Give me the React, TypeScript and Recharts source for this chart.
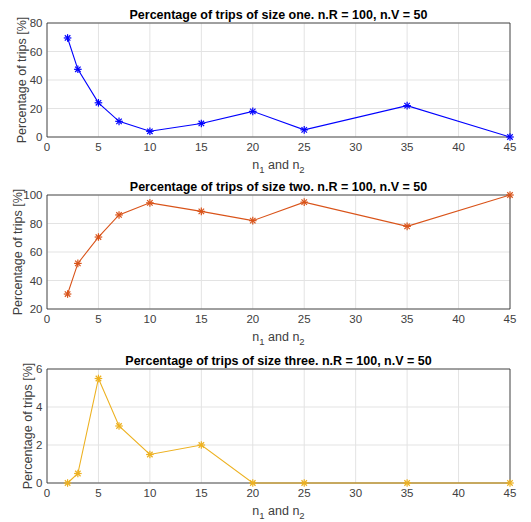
import { LineChart, Line, XAxis, YAxis, CartesianGrid, ReferenceArea } from 'recharts';

// n1 and n2 values on the x axis
const nValues = [2, 3, 5, 7, 10, 15, 20, 25, 35, 45];

// percentage of trips per size
const sizeOne = [69.5, 47.5, 24, 11, 4, 9.5, 18, 5, 22, 0];
const sizeTwo = [30.5, 52, 70.5, 86, 94.5, 88.5, 82, 95, 78, 100];
const sizeThree = [0, 0.5, 5.5, 3, 1.5, 2, 0, 0, 0, 0];

const xTicks = [0, 5, 10, 15, 20, 25, 30, 35, 40, 45];
const yTicksOne = [0, 20, 40, 60, 80];
const yTicksTwo = [20, 40, 60, 80, 100];
const yTicksThree = [0, 2, 4, 6];

const FONT = '"Liberation Sans", Arial, Helvetica, sans-serif';
const AXIS = '#262626';
const TICK = '#404040';
const GRID = '#e3e3e3';

const panels = [
  { title: 'Percentage of trips of size one. n.R = 100, n.V = 50', values: sizeOne, ticks: yTicksOne, color: '#0000FF', top: 23, labelX: 22 },
  { title: 'Percentage of trips of size two. n.R = 100, n.V = 50', values: sizeTwo, ticks: yTicksTwo, color: '#D95319', top: 21, labelX: 18 },
  { title: 'Percentage of trips of size three. n.R = 100, n.V = 50', values: sizeThree, ticks: yTicksThree, color: '#EDB120', top: 21, labelX: 28 },
];

const WIDTH = 531;
const HEIGHT = 174;
const PLOT_LEFT = 47;
const PLOT_RIGHT = 21;

const starDot = (color: string) => (props: any) => {
  const { cx, cy, index } = props;
  if (cx == null || cy == null) return <g key={`d-${index}`} />;
  const r = 3.8;
  const d = r * 0.72;
  return (
    <g key={`d-${index}`} stroke={color} strokeWidth={1.2}>
      <line x1={cx - r} y1={cy} x2={cx + r} y2={cy} />
      <line x1={cx} y1={cy - r} x2={cx} y2={cy + r} />
      <line x1={cx - d} y1={cy - d} x2={cx + d} y2={cy + d} />
      <line x1={cx - d} y1={cy + d} x2={cx + d} y2={cy - d} />
    </g>
  );
};

const XLabel = (props: any) => {
  const { viewBox } = props;
  const cx = viewBox.x + viewBox.width / 2;
  const y = viewBox.y + 31.5;
  return (
    <text x={cx} y={y} textAnchor="middle" fontSize={12.5} fill={TICK} fontFamily={FONT}>
      n<tspan fontSize={9.5} dy={4}>1</tspan>
      <tspan dy={-4}> and n</tspan>
      <tspan fontSize={9.5} dy={4}>2</tspan>
    </text>
  );
};

const makeYLabel = (x: number) => (props: any) => {
  const { viewBox } = props;
  const cy = viewBox.y + viewBox.height / 2;
  return (
    <text
      x={x}
      y={cy}
      transform={`rotate(-90, ${x}, ${cy})`}
      textAnchor="middle"
      dominantBaseline="central"
      fontSize={12.5}
      fill={TICK}
      fontFamily={FONT}
    >
      Percentage of trips [%]
    </text>
  );
};

const Panel = ({ panel }: { panel: (typeof panels)[number] }) => {
  const data = nValues.map((n, i) => ({ n, value: panel.values[i] }));
  const lo = panel.ticks[0];
  const hi = panel.ticks[panel.ticks.length - 1];
  const plotH = 114;
  const xAxisH = HEIGHT - panel.top - plotH;
  const centerX = PLOT_LEFT + (WIDTH - PLOT_LEFT - PLOT_RIGHT) / 2;
  return (
    <LineChart
      width={WIDTH}
      height={HEIGHT}
      data={data}
      margin={{ top: panel.top, right: PLOT_RIGHT, left: 0, bottom: 0 }}
      style={{ fontFamily: FONT }}
    >
      <CartesianGrid stroke={GRID} />
      <XAxis
        dataKey="n"
        type="number"
        domain={[0, 45]}
        ticks={xTicks}
        height={xAxisH}
        tickSize={0}
        tickMargin={6}
        axisLine={false}
        tick={{ fill: TICK, fontSize: 11.5 }}
        label={<XLabel />}
      />
      <YAxis
        type="number"
        domain={[lo, hi]}
        ticks={panel.ticks}
        width={PLOT_LEFT}
        tickSize={0}
        tickMargin={4.5}
        axisLine={false}
        tick={{ fill: TICK, fontSize: 11.5 }}
        label={{ content: makeYLabel(panel.labelX) }}
      />
      <ReferenceArea x1={0} x2={45} y1={lo} y2={hi} fill="none" stroke={AXIS} strokeWidth={0.8} ifOverflow="visible" />
      <Line
        dataKey="value"
        stroke={panel.color}
        strokeWidth={1.1}
        dot={starDot(panel.color)}
        activeDot={false}
        isAnimationActive={false}
      />
      <text
        x={centerX}
        y={panel.top - 4.5}
        textAnchor="middle"
        fontSize={12.5}
        fontWeight="bold"
        fill="#000"
        fontFamily={FONT}
      >
        {panel.title}
      </text>
    </LineChart>
  );
};

export default function App() {
  return (
    <div style={{ position: 'absolute', left: 0, top: 0, width: WIDTH, height: 522, background: '#fff', fontFamily: FONT }}>
      {panels.map((p, i) => (
        <div key={i} style={{ position: 'absolute', left: 0, top: i * HEIGHT }}>
          <Panel panel={p} />
        </div>
      ))}
    </div>
  );
}
